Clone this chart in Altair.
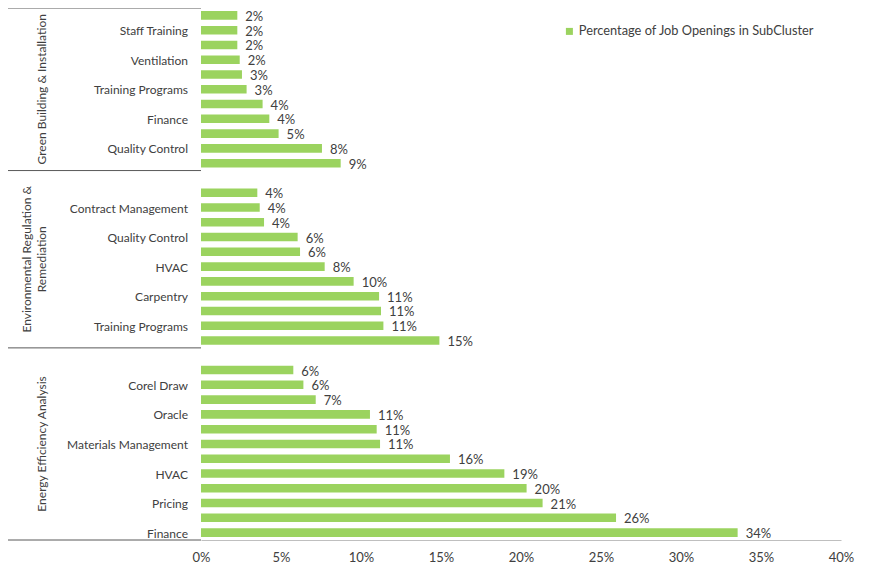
import altair as alt
import pandas as pd

series_name = "Percentage of Job Openings in SubCluster"

group_names = [
    "Green Building & Installation",
    "Environmental Regulation &\nRemediation",
    "Energy Efficiency Analysis",
]

# top-to-bottom order inside each group ("" = label not shown, None = empty slot)
gb_labels = ["", "Staff Training", "", "Ventilation", "", "Training Programs", "",
             "Finance", "", "Quality Control", ""]
gb_values = [2.27, 2.27, 2.27, 2.42, 2.56, 2.85, 3.85, 4.27, 4.85, 7.56, 8.73]

er_labels = ["", "", "Contract Management", "", "Quality Control", "", "HVAC", "",
             "Carpentry", "", "Training Programs", ""]
er_values = [None, 3.52, 3.67, 3.94, 6.04, 6.19, 7.73, 9.54, 11.13, 11.25, 11.40, 14.90]

ee_labels = ["", "", "Corel Draw", "", "Oracle", "", "Materials Management", "",
             "HVAC", "", "Pricing", "", "Finance"]
ee_values = [None, 5.77, 6.40, 7.17, 10.56, 10.98, 11.19, 15.56, 18.96, 20.35, 21.35,
             25.94, 33.54]

x_ticks = [0, 0.05, 0.10, 0.15, 0.20, 0.25, 0.30, 0.35, 0.40]

rows, bounds, centers = [], [], []
slot = 0
for gname, labs, vals in zip(group_names, [gb_labels, er_labels, ee_labels],
                             [gb_values, er_values, ee_values]):
    start = slot
    bounds.append({"b": slot - 0.5})
    for lab, val in zip(labs, vals):
        rows.append({"group": gname, "slot": slot, "label": lab, "value": val})
        slot += 1
    centers.append({"group": gname if "\n" in gname else "\n" + gname,
                    "center": (start + slot - 1) / 2})
bounds.append({"b": slot - 0.5})

df = pd.DataFrame(rows)
bar_df = df[df["value"].notna()].copy()
lab_df = df[df["label"] != ""].copy()
bounds_df = pd.DataFrame(bounds)
centers_df = pd.DataFrame(centers)

FONT = "Lato"
TXT = "#404040"
FS = 12
FS_NUM = 13
GREEN = "#9BD35F"

yscale = alt.Scale(domain=[-0.5, slot - 0.5], reverse=True, nice=False, zero=False)
xscale = alt.Scale(domain=[0, 0.4], nice=False)

bars = alt.Chart(bar_df).transform_calculate(
    pct="datum.value/100", zero="0", y0="datum.slot-0.29", y1="datum.slot+0.29",
    series=f'"{series_name}"'
).mark_bar().encode(
    x=alt.X("pct:Q", scale=xscale,
            axis=alt.Axis(format=".0%", values=x_ticks, grid=False, ticks=False,
                          domainColor="#BFBFBF", labelPadding=11, labelFontSize=FS_NUM,
                          labelFlush=False, labelFont=FONT, labelColor=TXT, title=None)),
    x2="zero:Q",
    y=alt.Y("y0:Q", scale=yscale,
            axis=alt.Axis(ticks=False, labels=False, grid=False, domainColor="#595959",
                          title=None)),
    y2="y1:Q",
    color=alt.Color("series:N", scale=alt.Scale(range=[GREEN]),
                    legend=alt.Legend(title=None, orient="none", legendX=362, legendY=17,
                                      symbolType="square", symbolSize=49,
                                      symbolStrokeWidth=0, labelFontSize=12.8,
                                      labelOffset=3, labelLimit=0,
                                      labelFont=FONT, labelColor=TXT)),
)

values_txt = alt.Chart(bar_df).transform_calculate(pct="datum.value/100").mark_text(
    align="left", baseline="middle", dx=8, dy=1.5, fontSize=FS_NUM, font=FONT, color=TXT
).encode(
    x=alt.X("pct:Q", scale=xscale),
    y=alt.Y("slot:Q", scale=yscale, axis=None),
    text=alt.Text("pct:Q", format=".0%"),
)

cat_txt = alt.Chart(lab_df).mark_text(
    align="right", baseline="middle", dy=1, fontSize=FS, font=FONT, color=TXT
).encode(
    x=alt.value(-13),
    y=alt.Y("slot:Q", scale=yscale, axis=None),
    text="label:N",
)

seps = alt.Chart(bounds_df).mark_rule(color="#595959", strokeWidth=1).encode(
    x=alt.value(-193), x2=alt.value(0),
    y=alt.Y("b:Q", scale=yscale, axis=None),
)

grp_txt = alt.Chart(centers_df).mark_text(
    angle=270, align="center", baseline="bottom", lineBreak="\n", lineHeight=15,
    fontSize=FS, font=FONT, color=TXT
).encode(
    x=alt.value(-167),
    y=alt.Y("center:Q", scale=yscale, axis=None),
    text="group:N",
)

chart = alt.layer(bars, values_txt, cat_txt, seps, grp_txt).properties(
    width=640, height=532,
    autosize=alt.AutoSizeParams(type="none"),
    padding={"left": 193, "top": 0, "right": 25, "bottom": 25},
).configure_view(stroke="transparent")

chart.save("out.html", embed_options={"renderer": "svg", "actions": False})
